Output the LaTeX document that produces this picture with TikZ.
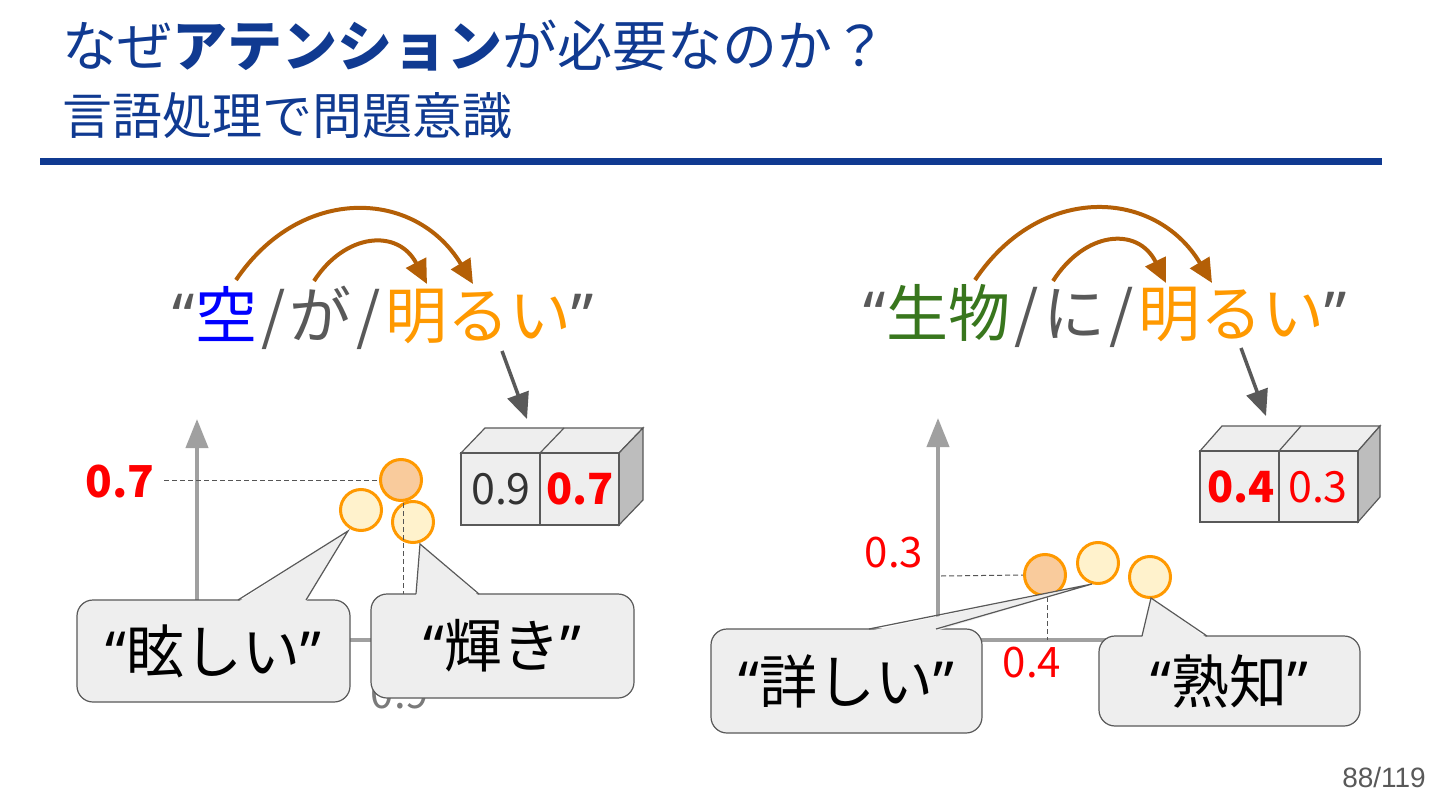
\documentclass[tikz,border=0pt]{standalone}
\usepackage{fontspec}
\setmainfont{Noto Sans CJK JP}
\newfontfamily\latinq{Noto Sans}
\newfontfamily\pagefont{Liberation Sans}
\usetikzlibrary{arrows.meta}
\definecolor{ctitle}{RGB}{16,58,145}
\definecolor{tgray}{HTML}{595959}
\definecolor{cblue}{HTML}{0000FF}
\definecolor{corange}{HTML}{FF9900}
\definecolor{cgreen}{HTML}{38761D}
\definecolor{cbrown}{HTML}{B45F06}
\definecolor{caxis}{HTML}{A0A0A0}
\definecolor{csalmon}{HTML}{F9CB9C}
\definecolor{clight}{HTML}{FFF2CC}
\definecolor{cbox}{HTML}{EEEEEE}
\definecolor{cside}{HTML}{BDBDBD}
\definecolor{cred}{HTML}{FF0000}
\definecolor{cdash}{HTML}{555555}
\newcommand{\qq}[1]{{\latinq #1}}
\newcommand{\slsh}{\makebox[33pt]{/}}
\begin{document}
\begin{tikzpicture}[x=1pt,y=-1pt,
  title/.style={anchor=west, inner sep=0pt, text=ctitle},
  sent/.style={inner sep=0pt, text=tgray, font=\fontsize{62}{70}\selectfont},
  brown/.style={draw=cbrown, line width=4pt, -{Triangle[length=24pt,width=22pt]}},
  darrow/.style={draw=tgray, line width=3.5pt, -{Triangle[length=26pt,width=22pt]}},
  axis/.style={draw=caxis, line width=4pt},
  axisarrow/.style={axis, -{Triangle[length=29pt,width=22pt]}},
  dashln/.style={draw=cdash, line width=1pt, dash pattern=on 5pt off 3pt},
  dot/.style={circle, draw=corange, line width=3pt, minimum size=41pt, inner sep=0pt, fill=clight},
  dotsel/.style={dot, fill=csalmon},
  callout/.style={draw=tgray, line width=1.2pt, fill=cbox, rounded corners=16pt, inner sep=0pt, font=\fontsize{58}{64}\selectfont},
  cfill/.style={fill=cbox},
  cedge/.style={draw=tgray, line width=1.2pt},
  face/.style={draw=tgray, line width=1.2pt, fill=cbox},
  sideface/.style={draw=tgray, line width=1.2pt, fill=cside},
  num/.style={inner sep=0pt, font=\fontsize{43}{50}\selectfont},
  lbl/.style={inner sep=0pt, font=\fontsize{42}{50}\selectfont}
]
\useasboundingbox (0,0) rectangle (1440,810);
\fill[white] (0,0) rectangle (1440,810);

% ---------- title ----------
\node[title, font=\fontsize{55}{62}\selectfont] (t1) at (62,46) {なぜ\textbf{アテンション}が必要なのか？};
\node[title, font=\fontsize{50}{58}\selectfont] (t2) at (62,116) {言語処理で問題意識};
\fill[ctitle] (40,158.5) rectangle (1382,165);

% ================= LEFT =================
\coordinate (lo) at (197,640);
\coordinate (ly) at (197,419);
\coordinate (lx) at (440,640);
\draw[axis] (lo) -- (lx);
\draw[axisarrow] (lo) -- (ly);
\node[lbl, text=cred, font=\bfseries\fontsize{44}{50}\selectfont] (l07) at (120,482) {0.7};
\node[lbl, text=tgray!80] (l09) at (400,694) {0.9};
\node[dotsel] (lc1) at (401,480) {};
\node[dot] (lc2) at (361,510) {};
\node[dot] (lc3) at (413,522) {};
\coordinate (ld1) at (164,480);
\coordinate (ld2) at (403,503);
\coordinate (ld3) at (403,596);
\draw[dashln] (ld1) -- (lc1.west);
\draw[dashln] (ld2) -- (ld3);

% callout 1
\node[callout, minimum width=273pt, minimum height=102pt] (k1) at (213.5,651) {\qq{“}眩しい\qq{”}};
\coordinate (k1a) at (238,600);
\coordinate (k1t) at (348,531);
\coordinate (k1b) at (306,600);
\fill[cfill] ([yshift=-2pt]k1a) -- (k1t) -- ([yshift=-2pt]k1b) -- cycle;
\draw[cedge, line join=miter] (k1a) -- (k1t) -- (k1b);
% callout 2
\node[callout, minimum width=263pt, minimum height=104pt] (k2) at (502.5,646) {\qq{“}輝き\qq{”}};
\coordinate (k2a) at (416,594);
\coordinate (k2t) at (420,544);
\coordinate (k2b) at (479,594);
\fill[cfill] ([yshift=-2pt]k2a) -- (k2t) -- ([yshift=-2pt]k2b) -- cycle;
\draw[cedge] (k2a) -- (k2t) -- (k2b);

% box left
\draw[face] (461,453) -- (485,428) -- (643,428) -- (619,453) -- cycle;
\draw[tgray, line width=1.2pt] (540,453) -- (564,428);
\draw[sideface] (619,453) -- (643,428) -- (643,500) -- (619,525) -- cycle;
\draw[face] (461,453) rectangle (540,525);
\draw[face] (540,453) rectangle (619,525);
\node[num, text=black!80] (b1a) at (501,489) {0.9};
\node[num, text=cred, font=\bfseries\fontsize{43}{50}\selectfont] (b1b) at (580,489) {0.7};

% sentence left
\node[sent] (s1) at (383,318) {\qq{“}\textcolor{cblue}{空}\slsh が\slsh\textcolor{corange}{明るい}\qq{”}};
\coordinate (s1o) at (236,280);
\coordinate (s1i) at (314,281);
\coordinate (s1e1) at (473,284);
\coordinate (s1e2) at (427,284);
\draw[brown] (s1o) .. controls (300,185) and (415,188) .. (s1e1);
\draw[brown] (s1i) .. controls (345,233) and (398,228) .. (s1e2);
\coordinate (s1d) at (502,351);
\coordinate (b1top) at (527,419);
\draw[darrow] (s1d) -- (b1top);

% ================= RIGHT =================
\coordinate (ro) at (938,640);
\coordinate (ry) at (938,418);
\coordinate (rx) at (1110,640);
\draw[axis] (ro) -- (rx);
\draw[axisarrow] (ro) -- (ry);
\node[lbl, text=cred] (r03) at (894,553) {0.3};
\node[lbl, text=cred] (r04) at (1032,663) {0.4};
\node[dotsel] (rc1) at (1045,575) {};
\node[dot] (rc2) at (1098,563) {};
\node[dot] (rc3) at (1150,577) {};
\coordinate (rd1) at (941,576);
\coordinate (rd2) at (1047,597);
\coordinate (rd3) at (1047,640);
\draw[dashln] (rd1) -- (rc1.west);
\draw[dashln] (rd2) -- (rd3);

% callout 3
\node[callout, minimum width=271pt, minimum height=104pt] (k3) at (846.5,681) {\qq{“}詳しい\qq{”}};
\coordinate (k3a) at (869,629);
\coordinate (k3t) at (1092,584);
\coordinate (k3b) at (936,629);
\fill[cfill] ([yshift=-2pt]k3a) -- (k3t) -- ([yshift=-2pt]k3b) -- cycle;
\draw[cedge] (k3a) -- (k3t) -- (k3b);
% callout 4
\node[callout, minimum width=261pt, minimum height=90pt] (k4) at (1229.5,681) {\qq{“}熟知\qq{”}};
\coordinate (k4a) at (1142,636);
\coordinate (k4t) at (1151,598);
\coordinate (k4b) at (1207,636);
\fill[cfill] ([yshift=-2pt]k4a) -- (k4t) -- ([yshift=-2pt]k4b) -- cycle;
\draw[cedge] (k4a) -- (k4t) -- (k4b);

% box right
\draw[face] (1200,451) -- (1222,426) -- (1380,426) -- (1358,451) -- cycle;
\draw[tgray, line width=1.2pt] (1279,451) -- (1301,426);
\draw[sideface] (1358,451) -- (1380,426) -- (1380,497) -- (1358,522) -- cycle;
\draw[face] (1200,451) rectangle (1279,522);
\draw[face] (1279,451) rectangle (1358,522);
\node[num, text=cred, font=\bfseries\fontsize{43}{50}\selectfont] (b2a) at (1241,487) {0.4};
\node[num, text=cred] (b2b) at (1318,487) {0.3};

% sentence right
\node[sent] (s2) at (1105,316) {\qq{“}\textcolor{cgreen}{生物}\slsh に\slsh\textcolor{corange}{明るい}\qq{”}};
\coordinate (s2o) at (975,280);
\coordinate (s2i) at (1053,281);
\coordinate (s2e1) at (1212,283);
\coordinate (s2e2) at (1166,283);
\draw[brown] (s2o) .. controls (1040,183) and (1155,188) .. (s2e1);
\draw[brown] (s2i) .. controls (1085,231) and (1138,226) .. (s2e2);
\coordinate (s2d) at (1241,348);
\coordinate (b2top) at (1266,416);
\draw[darrow] (s2d) -- (b2top);

% page number
\node[inner sep=0pt, anchor=east, text=tgray, font=\pagefont\fontsize{28}{32}\selectfont] (pg) at (1426,777) {88/119};
\end{tikzpicture}
\end{document}
